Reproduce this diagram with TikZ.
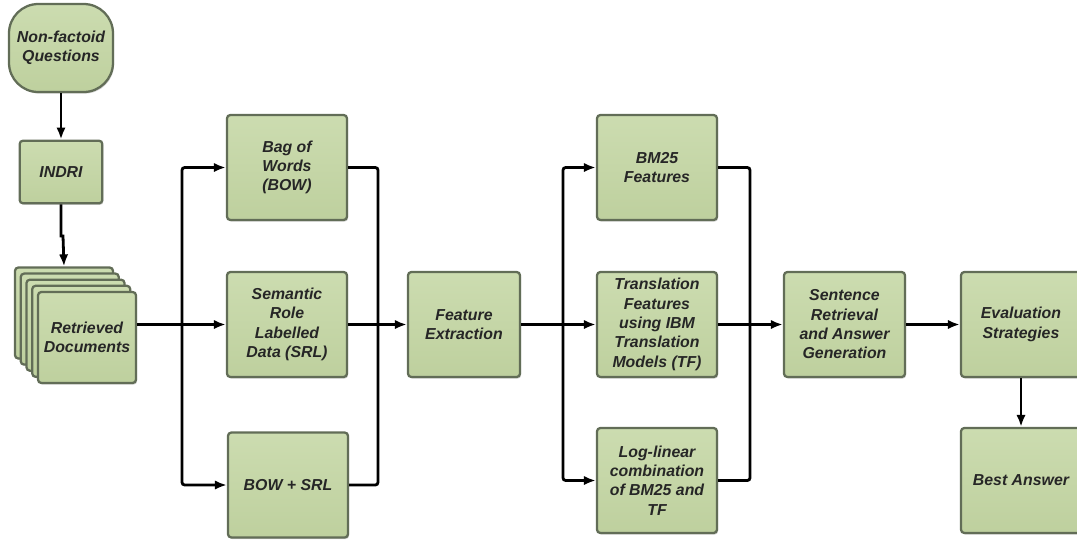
\documentclass[tikz,border=0pt]{standalone}
\usepackage{fontspec}
\setmainfont{Liberation Sans}
\usetikzlibrary{arrows.meta,shadows}
\definecolor{boxfill}{HTML}{CCDCB0}
\definecolor{boxfillB}{HTML}{BED09E}
\definecolor{boxdraw}{HTML}{626D57}
\definecolor{txt}{HTML}{262626}
\begin{document}
\begin{tikzpicture}[x=0.75pt,y=-0.75pt,
  box/.style={draw=boxdraw, line width=1.7pt, rounded corners=2.5pt,
    top color=boxfill, bottom color=boxfillB,
    drop shadow={shadow xshift=0.8pt, shadow yshift=-1.2pt, opacity=0.35},
    align=center, text=txt, inner sep=2pt,
    font=\fontsize{11.9}{14.5}\selectfont\bfseries\itshape},
  big/.style={box, minimum width=90pt, minimum height=78.75pt},
  conn/.style={line width=2.1pt, rounded corners=2pt},
  arr/.style={conn, -{Latex[length=9pt,width=7pt]}}]
\useasboundingbox (0,0) rectangle (1077,540);

% left column
\node[box, minimum width=78pt, minimum height=66pt, rounded corners=22pt] (q) at (61,48) {Non-factoid\\Questions};
\node[box, minimum width=62pt, minimum height=47pt] (indri) at (61,172) {INDRI};
\foreach \i in {1,...,4}
  \node[box, minimum width=73.5pt, minimum height=68.25pt] (d\i) at ({64+5.75*(\i-1)},{313+6.1*(\i-1)}) {};
\node[box, minimum width=73.5pt, minimum height=68.25pt] (docs) at (87,337.5) {Retrieved\\Documents};

% first group
\node[big] (bow) at (287,167.5) {Bag of\\Words\\(BOW)};
\node[big] (srl) at (287,324.5) {Semantic\\Role\\Labelled\\Data (SRL)};
\node[big] (bs) at (288,485) {BOW + SRL};
\node[big, minimum width=84pt] (fe) at (464,324.5) {Feature\\Extraction};

% second group
\node[big] (bm) at (657,167.5) {BM25\\Features};
\node[big] (tf) at (657,324.5) {Translation\\Features\\using IBM\\Translation\\Models (TF)};
\node[big] (ll) at (657,480.5) {Log-linear\\combination\\of BM25 and\\TF};
\node[big, minimum width=90.75pt] (sr) at (844.5,324.5) {Sentence\\Retrieval\\and Answer\\Generation};
\node[big] (ev) at (1021,324.5) {Evaluation\\Strategies};
\node[big] (ba) at (1021,480.5) {Best Answer};

% connectors
\draw[arr] (q) -- (indri);
\coordinate (j) at (63,236);
\draw[arr, sharp corners] (indri.south) -- (indri.south |- j) -- (j) -- (d1.north);

\coordinate (s1) at (182,324.5);
\coordinate (m1) at (378,324.5);
\draw[conn] (docs.east |- s1) -- (s1);
\draw[arr] (s1) |- (bow.west);
\draw[arr] (s1) -- (srl.west);
\draw[arr] (s1) |- (bs.west);
\draw[conn] (bow.east) -| (m1);
\draw[conn] (bs.east) -| (m1);
\draw[conn] (srl.east) -- (m1);
\draw[arr] (m1) -- (fe.west);

\coordinate (s2) at (563,324.5);
\coordinate (m2) at (750,324.5);
\draw[conn] (fe.east) -- (s2);
\draw[arr] (s2) |- (bm.west);
\draw[arr] (s2) -- (tf.west);
\draw[arr] (s2) |- (ll.west);
\draw[conn] (bm.east) -| (m2);
\draw[conn] (ll.east) -| (m2);
\draw[conn] (tf.east) -- (m2);
\draw[arr] (m2) -- (sr.west);
\draw[arr] (sr) -- (ev);
\draw[arr] (ev) -- (ba);
\end{tikzpicture}
\end{document}
